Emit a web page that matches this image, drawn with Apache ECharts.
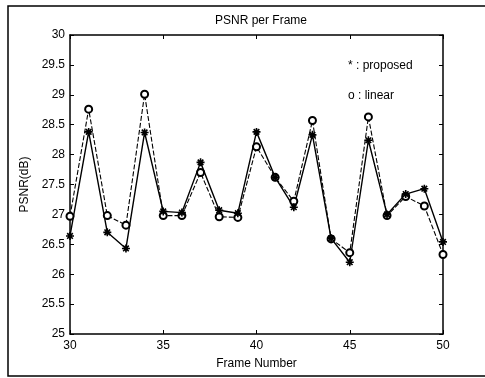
<!DOCTYPE html>
<html>
<head>
<meta charset="utf-8">
<script src="https://cdn.jsdelivr.net/npm/echarts@6/dist/echarts.min.js"></script>
<style>
html, body {margin: 0; padding: 0; background: #fff;}
#chartBox {width: 485px; height: 378px;}
</style>
</head>
<body>
<div id="chartBox"></div>
<script>
// frame numbers on the x axis
let frames = [30, 31, 32, 33, 34, 35, 36, 37, 38, 39, 40, 41, 42, 43, 44, 45, 46, 47, 48, 49, 50];
// '*' : proposed
let proposed = [26.64, 28.38, 26.70, 26.43, 28.37, 27.05, 27.03, 27.87, 27.07, 27.02, 28.38, 27.62, 27.12, 28.33, 26.60, 26.20, 28.24, 27.00, 27.34, 27.43, 26.54];
// 'o' : linear
let linear = [26.97, 28.76, 26.98, 26.82, 29.01, 26.98, 26.98, 27.70, 26.96, 26.95, 28.13, 27.62, 27.22, 28.57, 26.59, 26.36, 28.63, 26.98, 27.30, 27.14, 26.33];
let yTicks = [25, 25.5, 26, 26.5, 27, 27.5, 28, 28.5, 29, 29.5, 30];

let font = 'Liberation Sans, Arial, sans-serif';
let asterisk = 'path://M0 5 L10 5 M5 0 L5 10 M1.5 1.5 L8.5 8.5 M8.5 1.5 L1.5 8.5';

function pairs(ys) {
    return frames.map(function (f, i) { return [f, ys[i]]; });
}

let chartBox = echarts.init(document.getElementById('chartBox'));
let axisCommon = {
    axisLine: {show: true, onZero: false, lineStyle: {color: '#000', width: 1.5}},
    axisTick: {show: true, inside: true, length: 4, lineStyle: {color: '#000'}},
    splitLine: {show: false}
};
let option = {
    animation: false,
    backgroundColor: '#fff',
    textStyle: {fontFamily: font},
    title: {
        text: 'PSNR per Frame', left: 256, top: 10, textAlign: 'center',
        textStyle: {fontFamily: font, fontSize: 12, fontWeight: 'normal', color: '#000'}
    },
    grid: {left: 70, right: 42, top: 35, bottom: 44},
    xAxis: [
        Object.assign({
            type: 'value', min: 30, max: 50, interval: 5, position: 'bottom',
            name: 'Frame Number', nameLocation: 'middle', nameGap: 24,
            nameTextStyle: {fontFamily: font, fontSize: 12, color: '#000'},
            axisLabel: {color: '#000', fontSize: 12, fontFamily: font, margin: 6}
        }, axisCommon),
        Object.assign({
            type: 'value', min: 30, max: 50, interval: 5, position: 'top',
            axisLabel: {show: false}
        }, axisCommon)
    ],
    yAxis: [
        Object.assign({
            type: 'value', min: 25, max: 30, interval: 0.5, position: 'left',
            name: 'PSNR(dB)', nameLocation: 'middle', nameGap: 34,
            nameTextStyle: {fontFamily: font, fontSize: 12, color: '#000'},
            axisLabel: {
                color: '#000', fontSize: 12, fontFamily: font, margin: 5,
                formatter: function (v) { return yTicks.indexOf(v) >= 0 ? String(v) : ''; }
            }
        }, axisCommon),
        Object.assign({
            type: 'value', min: 25, max: 30, interval: 0.5, position: 'right',
            axisLabel: {show: false}
        }, axisCommon)
    ],
    graphic: [
        {type: 'rect', shape: {x: 8, y: 6, width: 490, height: 370}, style: {fill: 'none', stroke: '#000', lineWidth: 1.5}, silent: true},
        {type: 'text', left: 348, top: 60, style: {text: '* : proposed', font: '12px ' + font, fill: '#000'}},
        {type: 'text', left: 348, top: 90, style: {text: 'o : linear', font: '12px ' + font, fill: '#000'}}
    ],
    series: [
        {
            name: 'linear', type: 'line', data: pairs(linear),
            symbol: 'emptyCircle', symbolSize: 7,
            lineStyle: {color: '#000', width: 1.1, type: [5, 2]},
            itemStyle: {color: '#000', borderColor: '#000', borderWidth: 1.1}
        },
        {
            name: 'proposed', type: 'line', data: pairs(proposed),
            symbol: asterisk, symbolSize: 8,
            lineStyle: {color: '#000', width: 1.4},
            itemStyle: {color: '#000', borderColor: '#000', borderWidth: 1.6}
        }
    ]
};
chartBox.setOption(option, true);
</script>
</body>
</html>
